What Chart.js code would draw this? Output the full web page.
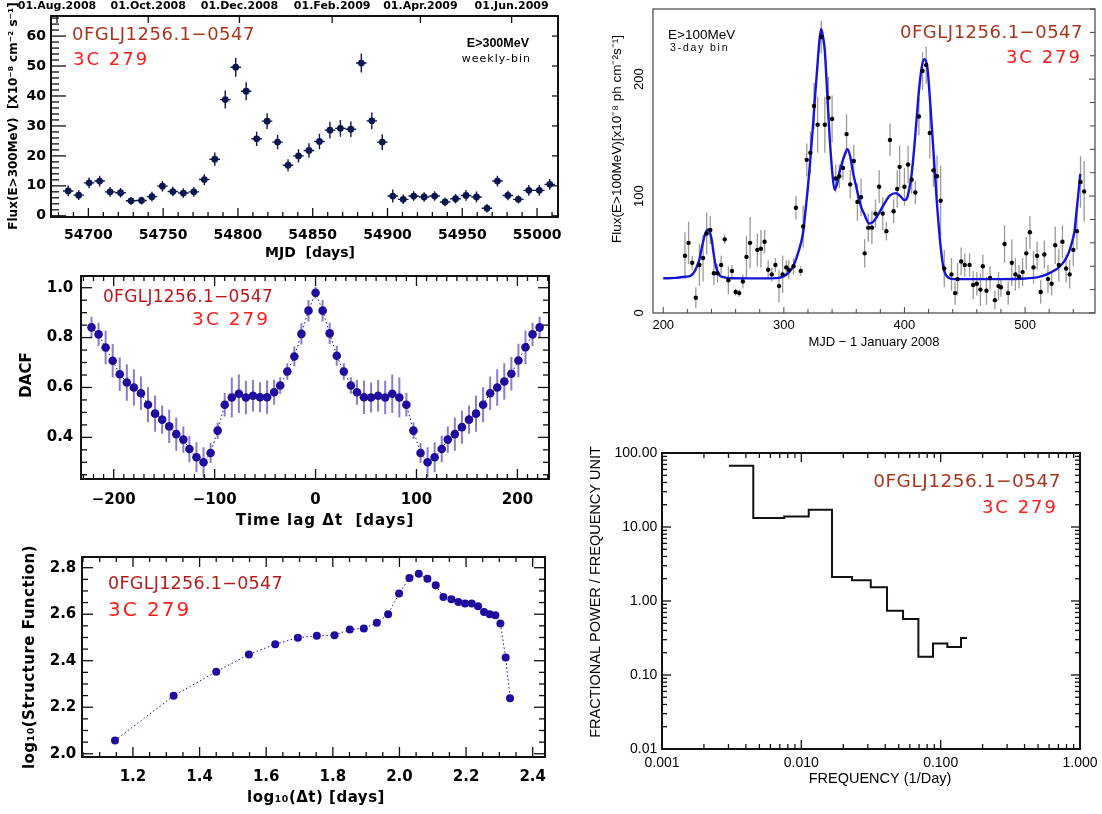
<!DOCTYPE html>
<html>
<head>
<meta charset="utf-8">
<title>3C 279 variability panels</title>
<script src="https://cdn.jsdelivr.net/npm/chart.js@4.4.1/dist/chart.umd.min.js"></script>
<style>
html, body { margin: 0; padding: 0; background: #fff; }
#wrap { position: relative; width: 1102px; height: 814px; overflow: hidden; background: #fff; }
#wrap canvas { position: absolute; left: 0; top: 0; }
</style>
</head>
<body>
<div id="wrap">
  <canvas id="lc" width="1102" height="814"></canvas>
  <canvas id="bin3" width="1102" height="814"></canvas>
  <canvas id="dacfChart" width="1102" height="814"></canvas>
  <canvas id="sfChart" width="1102" height="814"></canvas>
  <canvas id="psdChart" width="1102" height="814"></canvas>
</div>
<script>
// ---- weekly light curve E>300MeV ----
const lcMjd = [54686.5, 54693.5, 54700.5, 54707.5, 54714.5, 54721.5, 54728.5, 54735.5, 54742.5, 54749.5,
  54756.5, 54763.5, 54770.5, 54777.5, 54784.5, 54791.5, 54798.5, 54805.5, 54812.5, 54819.5,
  54826.5, 54833.5, 54840.5, 54847.5, 54854.5, 54861.5, 54868.5, 54875.5, 54882.5, 54889.5,
  54896.5, 54903.5, 54910.5, 54917.5, 54924.5, 54931.5, 54938.5, 54945.5, 54952.5, 54959.5,
  54966.5, 54973.5, 54980.5, 54987.5, 54994.5, 55001.5, 55008.5];
const lcFlux = [8.3, 6.9, 11.0, 11.6, 8.0, 7.7, 5.0, 5.1, 6.4, 9.9,
  8.1, 7.6, 8.0, 12.1, 18.9, 38.8, 49.6, 41.6, 25.7, 31.6,
  24.6, 16.9, 20.0, 21.8, 24.8, 28.6, 29.2, 28.9, 51.0, 31.7,
  24.6, 6.6, 5.5, 6.6, 6.3, 6.6, 4.6, 5.7, 6.8, 6.3,
  2.5, 11.6, 6.8, 5.5, 8.5, 8.5, 10.5];
const lcErr = [1.8, 1.6, 1.8, 1.8, 1.6, 1.6, 1.3, 1.3, 1.6, 1.8,
  1.6, 1.6, 1.6, 1.8, 2.2, 3.0, 3.2, 3.0, 2.4, 2.6,
  2.4, 2.0, 2.2, 2.4, 2.6, 2.8, 2.8, 2.6, 3.2, 2.8,
  2.6, 2.2, 1.6, 1.6, 1.6, 1.6, 1.4, 1.6, 1.8, 1.8,
  1.4, 1.8, 1.6, 1.4, 1.8, 1.8, 1.8];
const lcHalfBin = 3.5;
const dateTicks = [54679, 54740, 54801, 54863, 54922, 54983];
const dateLabels = ['01.Aug.2008', '01.Oct.2008', '01.Dec.2008', '01.Feb.2009', '01.Apr.2009', '01.Jun.2009'];

// ---- 3-day bin light curve E>100MeV ----
const binDay = [218, 221, 224, 227, 230, 233, 236, 239, 242, 245, 248, 251, 254, 257, 260, 263, 266, 269, 272,
  278, 281, 284, 287, 290, 293, 296, 299, 302,
  304, 308, 310, 314, 316,
  319, 322, 325, 328, 331, 334, 337, 340, 343, 346, 349, 352, 355, 358, 361, 364, 367, 370, 373, 376, 379, 382, 385, 388, 391, 394,
  396,
  400, 403, 406, 409, 412, 415, 418, 421, 424, 427, 430, 433,
  439, 442, 444, 447, 450, 454, 457, 460, 463, 465, 468, 471, 475, 478, 480, 483, 486, 489, 492, 495, 498, 501, 504, 507,
  510, 513, 516, 519, 522, 525, 528, 531, 534, 537, 540, 543, 546, 549];
const binFlux = [49, 60, 43, 13, 41, 47, 68, 71, 34, 34, 41, 63, 28, 36, 18, 17, 27, 48, 60,
  54, 55, 61, 37, 33, 41, 23, 33, 39,
  37, 40, 90, 36, 74,
  131, 137, 177, 161, 236, 161, 184, 166, 115, 117, 124, 153, 110, 130, 95, 99, 51, 73, 73, 85, 108, 85, 70, 148, 87, 106,
  125,
  108, 127, 114, 103, 168, 207, 212, 154, 122, 117, 96, 38,
  33, 17, 29, 44, 41, 41, 24, 25, 20, 40, 19, 30, 11, 23, 22, 59, 17, 43, 33, 31, 35, 51, 69, 39,
  49, 18, 50, 29, 25, 58, 41, 61, 38, 33, 54, 70, 112, 104];
const binErr = [20, 18, 6, 9, 18, 20, 18, 12, 10, 8, 8, 4, 12, 5, 3, 3, 6, 18, 22,
  14, 16, 10, 8, 6, 6, 14, 16, 6,
  8, 7, 10, 4, 18,
  14, 18, 20, 24, 14, 24, 18, 20, 12, 10, 10, 17, 12, 14, 16, 16, 12, 12, 14, 12, 14, 14, 8, 14, 10, 16,
  18,
  16, 16, 12, 10, 16, 16, 16, 22, 14, 18, 30, 16,
  14, 10, 14, 12, 10, 10, 12, 10, 14, 10, 12, 10, 8, 12, 8, 16, 10, 20, 14, 10, 12, 14, 14, 14,
  12, 10, 12, 12, 10, 16, 14, 14, 12, 12, 14, 16, 22, 26];
const fitDay = [200, 210, 218, 222, 225, 228, 230, 232, 234, 236, 237.5, 239, 240.3, 241.5, 243, 245, 247, 250, 255, 270,
  285, 296, 300, 304, 308, 312, 316, 318, 320, 322, 324, 326, 328, 329.5, 331, 332.5, 334, 336, 338, 340,
  342, 344, 346.5, 350, 352.7, 355, 357, 360, 362, 364, 366.5, 370.7, 374, 377, 382.5, 388, 393, 396.5, 400, 402,
  404, 406, 408, 410, 412, 414.3, 416.5, 419, 421.2, 424, 426.8, 429.5, 432.3, 435.6, 440.5, 460, 480, 500, 510, 518,
  524.6, 529, 533, 536, 538.5, 541, 542.5, 544, 545.8];
const fitFlux = [29.7, 30, 31, 31.5, 34, 40, 46, 56, 65, 70.5, 71.5, 68, 62, 53, 43, 35.5, 32, 30.6, 29.7, 29.6,
  29.6, 30, 31.5, 34.5, 40.5, 52, 69, 88, 108, 132, 158, 187, 214, 233, 243, 236, 224, 187, 150, 122,
  105.5, 110, 122, 134, 140, 134, 122, 108, 99, 91, 85, 76.5, 78, 82, 92, 100.5, 102.5, 100, 96.5, 98,
  106, 119, 140, 165, 190, 210, 217, 210, 182, 139, 96, 62, 39, 31, 29, 29, 29, 29.5, 30.5, 33,
  36.5, 40, 45, 51, 59, 70, 85, 100, 119];

// ---- DACF ----
const lags = [-222, -215, -208, -201, -194, -187, -180, -173, -166, -159, -152, -145, -138, -131, -125, -118,
  -111, -104, -97, -90, -83, -76, -69, -62, -55, -48, -41, -35, -28, -21, -14, -7, 0,
  7, 14, 21, 28, 35, 41, 48, 55, 62, 69, 76, 83, 90, 97, 104, 111,
  118, 125, 131, 138, 145, 152, 159, 166, 173, 180, 187, 194, 201, 208, 215, 222];
const dacf = [0.841, 0.813, 0.76, 0.707, 0.653, 0.62, 0.6, 0.577, 0.531, 0.495, 0.471, 0.444, 0.413, 0.391, 0.353, 0.32,
  0.30, 0.337, 0.427, 0.531, 0.56, 0.575, 0.56, 0.567, 0.561, 0.561, 0.581, 0.608, 0.664, 0.724, 0.815, 0.908, 0.98,
  0.908, 0.817, 0.727, 0.664, 0.608, 0.581, 0.561, 0.56, 0.567, 0.56, 0.575, 0.56, 0.531, 0.427, 0.337, 0.30,
  0.32, 0.353, 0.391, 0.413, 0.441, 0.471, 0.495, 0.531, 0.577, 0.6, 0.624, 0.655, 0.708, 0.761, 0.813, 0.841];
const dacfErr = [0.043, 0.047, 0.067, 0.067, 0.067, 0.073, 0.073, 0.067, 0.07, 0.073, 0.057, 0.067, 0.067, 0.053, 0.053, 0.06,
  0.06, 0.04, 0.033, 0.047, 0.08, 0.077, 0.067, 0.063, 0.06, 0.067, 0.05, 0.033, 0.033, 0.04, 0.043, 0.043, 0.023,
  0.043, 0.043, 0.04, 0.033, 0.033, 0.05, 0.067, 0.06, 0.063, 0.067, 0.077, 0.08, 0.047, 0.033, 0.04, 0.06,
  0.06, 0.053, 0.053, 0.067, 0.067, 0.057, 0.073, 0.07, 0.067, 0.073, 0.073, 0.067, 0.067, 0.067, 0.047, 0.043];

// ---- structure function ----
const sfLogDt = [1.146, 1.322, 1.450, 1.548, 1.627, 1.695, 1.752, 1.805, 1.851, 1.893, 1.932, 1.966, 1.999, 2.030, 2.058,
  2.084, 2.109, 2.132, 2.156, 2.177, 2.197, 2.217, 2.236, 2.254, 2.271, 2.288, 2.303, 2.319, 2.332];
const sfLog = [2.057, 2.249, 2.353, 2.427, 2.471, 2.499, 2.507, 2.51, 2.534, 2.539, 2.563, 2.6, 2.689, 2.756, 2.774,
  2.753, 2.724, 2.674, 2.664, 2.653, 2.646, 2.646, 2.634, 2.61, 2.6, 2.596, 2.56, 2.414, 2.239];

// ---- power spectrum (bin edges + power per bin) ----
const psdEdges = [0.00302, 0.00452, 0.00753, 0.0113, 0.0166, 0.0231, 0.0315, 0.0412, 0.0537, 0.0692, 0.0881, 0.1117, 0.140, 0.1545];
const psdPower = [67.3, 13.2, 13.9, 17.1, 2.11, 1.9, 1.53, 0.74, 0.571, 0.177, 0.267, 0.239, 0.316];

// ------------------------------------------------------------------
const W = 1102, H = 814;
const DJ = "'DejaVu Sans', sans-serif";
const LS = "'Liberation Sans', Arial, sans-serif";
const SRC_DARK = '#a8361e';
const SRC_RED = '#ff1a1a';

function span(a, b, step) {
    const out = [];
    const n = Math.round((b - a) / step);
    for (let i = 0; i <= n; i++) out.push(+(a + i * step).toFixed(6));
    return out;
}

function logTicks(lo, hi) {
    const out = [];
    for (let e = lo; e < hi; e++) {
        for (let m = 1; m < 10; m++) out.push(+(m * Math.pow(10, e)).toPrecision(6));
    }
    out.push(Math.pow(10, hi));
    return out;
}

function pts(xs, ys) {
    return xs.map((x, i) => ({ x: x, y: ys[i] }));
}

// vertical error bars as broken line segments
function errY(xs, ys, es) {
    const out = [];
    xs.forEach((x, i) => {
        out.push({ x: x, y: ys[i] - es[i] }, { x: x, y: ys[i] + es[i] }, { x: x, y: null });
    });
    return out;
}

// horizontal bin-width bars
function errX(xs, ys, half) {
    const out = [];
    xs.forEach((x, i) => {
        out.push({ x: x - half, y: ys[i] }, { x: x + half, y: ys[i] }, { x: x, y: null });
    });
    return out;
}

function isMajor(v, t) {
    if (t.log) {
        const l = Math.log10(v);
        return Math.abs(l - Math.round(l)) < 1e-6;
    }
    if (!t.major) return false;
    const r = v / t.major;
    return Math.abs(r - Math.round(r)) < 1e-6;
}

function drawText(ctx, t) {
    ctx.save();
    ctx.font = t.font;
    ctx.fillStyle = t.color || '#000';
    ctx.textAlign = t.align || 'center';
    ctx.textBaseline = 'middle';
    ctx.letterSpacing = (t.ls || 0) + 'px';
    ctx.translate(t.x, t.y);
    if (t.rot) ctx.rotate(-Math.PI / 2);
    ctx.fillText(t.s, 0, 0);
    ctx.restore();
}

// frame, inner tick marks and annotation text
function decor(spec) {
    return {
        id: 'decor',
        afterDraw(chart) {
            const ctx = chart.ctx, a = chart.chartArea;
            ctx.save();
            ctx.strokeStyle = spec.tickColor || '#111';
            ctx.lineWidth = spec.tickWidth || 1.3;
            (spec.ticks || []).forEach(t => {
                const sc = chart.scales[t.scale];
                t.values.forEach(v => {
                    const p = sc.getPixelForValue(v);
                    const horiz = t.side === 'bottom' || t.side === 'top';
                    if (horiz && (p < a.left - 0.5 || p > a.right + 0.5)) return;
                    if (!horiz && (p < a.top - 0.5 || p > a.bottom + 0.5)) return;
                    const len = isMajor(v, t) ? t.long : t.short;
                    ctx.beginPath();
                    if (t.side === 'bottom') { ctx.moveTo(p, a.bottom); ctx.lineTo(p, a.bottom - len); }
                    if (t.side === 'top') { ctx.moveTo(p, a.top); ctx.lineTo(p, a.top + len); }
                    if (t.side === 'left') { ctx.moveTo(a.left, p); ctx.lineTo(a.left + len, p); }
                    if (t.side === 'right') { ctx.moveTo(a.right, p); ctx.lineTo(a.right - len, p); }
                    ctx.stroke();
                });
            });
            ctx.lineWidth = spec.frameWidth || 2;
            ctx.strokeStyle = spec.frameColor || '#111';
            ctx.strokeRect(a.left, a.top, a.right - a.left, a.bottom - a.top);
            ctx.restore();
            if (spec.rotYLabels) {
                const r = spec.rotYLabels;
                r.values.forEach(v => {
                    drawText(ctx, { s: String(v), x: r.x, y: chart.scales.y.getPixelForValue(v), font: r.font, rot: true });
                });
            }
            (spec.texts || []).forEach(t => drawText(ctx, t));
        }
    };
}

// scale whose box is fixed to `size` px (labels are clipped to that box)
function axis(pos, size, min, max, labels, fmt, font, pad, extra) {
    return Object.assign({
        type: 'linear',
        position: pos,
        min: min,
        max: max,
        grid: { display: false, drawTicks: false },
        border: { display: false },
        ticks: {
            display: labels.length > 0,
            autoSkip: false,
            maxRotation: 0,
            minRotation: 0,
            padding: pad,
            color: '#000',
            font: font,
            callback: fmt
        },
        afterBuildTicks: s => { if (labels.length) s.ticks = labels.map(v => ({ value: v })); },
        afterFit: s => {
            if (s.isHorizontal()) s.height = size; else s.width = size;
            s.paddingLeft = s.paddingRight = s.paddingTop = s.paddingBottom = 0;
        }
    }, extra || {});
}

// box = plot area [left, top, right, bottom]; left/bottom (and optional top) scales fill the margins
function makeChart(id, box, hasTop, datasets, scales, spec) {
    return new Chart(document.getElementById(id), {
        type: 'scatter',
        data: { datasets: datasets },
        options: {
            responsive: false,
            animation: false,
            devicePixelRatio: 1,
            events: [],
            layout: { padding: { left: 0, top: hasTop ? 0 : box[1], right: W - box[2], bottom: 0 } },
            plugins: { legend: { display: false }, tooltip: { enabled: false } },
            scales: scales
        },
        plugins: [decor(spec)]
    });
}

const asInt = v => String(v);
const withMinus = v => (v < 0 ? '\u2212' + (-v) : String(v));
const oneDec = v => v.toFixed(1);

// ---------------- panel 1: weekly light curve ----------------
const navy = '#0b1650';
const b1 = [51, 16, 558, 217];
makeChart('lc', b1, true, [
    { data: pts(lcMjd, lcFlux), pointRadius: 3.4, pointBackgroundColor: navy, pointBorderColor: navy, pointBorderWidth: 0 },
    { data: errY(lcMjd, lcFlux, lcErr), showLine: true, pointRadius: 0, borderColor: navy, borderWidth: 1.4 },
    { data: errX(lcMjd, lcFlux, lcHalfBin), showLine: true, pointRadius: 0, borderColor: navy, borderWidth: 1.4 }
], {
    x: axis('bottom', H - b1[3], 54675, 55014, span(54700, 55000, 50), asInt, { family: DJ, size: 14, weight: 'bold' }, 9.6),
    x2: axis('top', b1[1], 54675, 55014, dateTicks, (v, i) => dateLabels[i], { family: DJ, size: 11, weight: 'bold' }, 3.4),
    y: axis('left', b1[0], -0.4, 66.7, span(0, 60, 10), asInt, { family: DJ, size: 14, weight: 'bold' }, 5)
}, {
    frameWidth: 2,
    ticks: [
        { scale: 'x', side: 'bottom', values: span(54680, 55010, 10), major: 50, long: 9, short: 5 },
        { scale: 'x2', side: 'top', values: dateTicks, long: 7, short: 7 },
        { scale: 'y', side: 'left', values: span(0, 66, 2), major: 10, long: 15, short: 8 },
        { scale: 'y', side: 'right', values: span(0, 60, 10), long: 6, short: 6 }
    ],
    texts: [
        { s: 'MJD  [days]', x: 310, y: 253, font: 'bold 14px ' + DJ },
        { s: 'Flux(E>300MeV)  [X10\u207B\u2078 cm\u207B\u00B2 s\u207B\u00B9]', x: 14, y: 116, font: 'bold 12px ' + DJ, rot: true },
        { s: '0FGLJ1256.1\u22120547', x: 72, y: 35, font: '18px ' + DJ, color: SRC_DARK, align: 'left', ls: 0.5 },
        { s: '3C 279', x: 73, y: 60, font: '18px ' + DJ, color: SRC_RED, align: 'left', ls: 2 },
        { s: 'E>300MeV', x: 529, y: 44, font: 'bold 12.5px ' + LS, align: 'right' },
        { s: 'weekly-bin', x: 531, y: 59, font: '11px ' + DJ, align: 'right', ls: 1 }
    ]
});

// ---------------- panel 2: 3-day bins with fit ----------------
const b2 = [653, 9, 1095, 313];
makeChart('bin3', b2, false, [
    { data: pts(binDay, binFlux), pointRadius: 2.2, pointBackgroundColor: '#000', pointBorderColor: '#000', pointBorderWidth: 0 },
    { data: pts(fitDay, fitFlux), showLine: true, pointRadius: 0, borderColor: '#1414dc', borderWidth: 2.4, cubicInterpolationMode: 'monotone' },
    { data: errY(binDay, binFlux, binErr), showLine: true, pointRadius: 0, borderColor: '#9a9a9a', borderWidth: 1.3 }
], {
    x: axis('bottom', H - b2[3], 191.5, 558, [200, 300, 400, 500], asInt, { family: LS, size: 13 }, 4.2),
    y: axis('left', b2[0], 0, 260, [0, 100, 200], asInt, { family: LS, size: 13 }, 4, { ticks: { display: false } })
}, {
    frameWidth: 1.2,
    frameColor: '#444',
    tickColor: '#444',
    tickWidth: 1,
    ticks: [
        { scale: 'x', side: 'bottom', values: span(200, 540, 20), major: 100, long: 6, short: 4 },
        { scale: 'y', side: 'right', values: span(0, 260, 20), major: 100, long: 6, short: 5 }
    ],
    rotYLabels: { values: [0, 100, 200], x: 639.5, font: '13px ' + LS },
    texts: [
        { s: 'E>100MeV', x: 668, y: 35, font: '13.5px ' + LS, align: 'left' },
        { s: '3-day bin', x: 670, y: 48, font: '10.5px ' + LS, align: 'left', ls: 1.8 },
        { s: '0FGLJ1256.1\u22120547', x: 1083, y: 33, font: '18px ' + DJ, color: SRC_DARK, align: 'right', ls: 0.5 },
        { s: '3C 279', x: 1082, y: 58, font: '18px ' + DJ, color: SRC_RED, align: 'right', ls: 2 },
        { s: 'Flux(E>100MeV)[x10\u207B\u2078 ph cm\u207B\u00B2s\u207B\u00B9]', x: 617, y: 139, font: '13.5px ' + LS, rot: true },
        { s: 'MJD \u2212 1 January 2008', x: 874, y: 342, font: '13px ' + LS }
    ]
});

// ---------------- panel 3: DACF ----------------
const indigo = '#1e0c9e';
const b3 = [81, 276, 549, 479];
makeChart('dacfChart', b3, false, [
    { data: pts(lags, dacf), showLine: true, pointRadius: 4.3, pointBackgroundColor: indigo, pointBorderColor: indigo,
      pointBorderWidth: 0, borderColor: indigo, borderWidth: 1, borderDash: [1.5, 2.5] },
    { data: errY(lags, dacf, dacfErr), showLine: true, pointRadius: 0, borderColor: '#8a7dcc', borderWidth: 2 }
], {
    x: axis('bottom', H - b3[3], -232.4, 231.3, [-200, -100, 0, 100, 200], withMinus, { family: DJ, size: 15, weight: 'bold' }, 11.7),
    y: axis('left', b3[0], 0.233, 1.047, [0.4, 0.6, 0.8, 1.0], oneDec, { family: DJ, size: 15, weight: 'bold' }, 7.7)
}, {
    frameWidth: 2,
    ticks: [
        { scale: 'x', side: 'bottom', values: span(-230, 230, 10), major: 100, long: 10, short: 5 },
        { scale: 'x', side: 'top', values: span(-230, 230, 10), major: 100, long: 10, short: 5 },
        { scale: 'y', side: 'left', values: span(0.25, 1.0, 0.05), major: 0.2, long: 11, short: 6 },
        { scale: 'y', side: 'right', values: span(0.25, 1.0, 0.05), major: 0.2, long: 11, short: 6 }
    ],
    texts: [
        { s: 'DACF', x: 27, y: 375, font: 'bold 15px ' + DJ, rot: true },
        { s: 'Time lag \u0394t  [days]', x: 325, y: 521, font: 'bold 15px ' + DJ, ls: 1 },
        { s: '0FGLJ1256.1\u22120547', x: 103, y: 298, font: '17px ' + DJ, color: '#c0141c', align: 'left', ls: 0.3 },
        { s: '3C 279', x: 270, y: 320, font: '18.5px ' + DJ, color: SRC_RED, align: 'right', ls: 2 }
    ]
});

// ---------------- panel 4: structure function ----------------
const b4 = [82, 557, 545, 757];
makeChart('sfChart', b4, false, [
    { data: pts(sfLogDt, sfLog), showLine: true, pointRadius: 4, pointBackgroundColor: indigo, pointBorderColor: indigo,
      pointBorderWidth: 0, borderColor: indigo, borderWidth: 1, borderDash: [1.5, 2.5] }
], {
    x: axis('bottom', H - b4[3], 1.047, 2.437, [1.2, 1.4, 1.6, 1.8, 2.0, 2.2, 2.4], oneDec, { family: DJ, size: 15, weight: 'bold' }, 11),
    y: axis('left', b4[0], 1.986, 2.846, [2.0, 2.2, 2.4, 2.6, 2.8], oneDec, { family: DJ, size: 15, weight: 'bold' }, 5.7)
}, {
    frameWidth: 2,
    ticks: [
        { scale: 'x', side: 'bottom', values: span(1.05, 2.4, 0.05), major: 0.2, long: 10, short: 5 },
        { scale: 'x', side: 'top', values: span(1.05, 2.4, 0.05), major: 0.2, long: 10, short: 5 },
        { scale: 'y', side: 'left', values: span(2.0, 2.8, 0.05), major: 0.2, long: 11, short: 6 },
        { scale: 'y', side: 'right', values: span(2.0, 2.8, 0.05), major: 0.2, long: 11, short: 6 }
    ],
    texts: [
        { s: 'log\u2081\u2080(Structure Function)', x: 30, y: 657, font: 'bold 15px ' + DJ, rot: true, ls: 0.5 },
        { s: 'log\u2081\u2080(\u0394t) [days]', x: 316, y: 798, font: 'bold 15px ' + DJ, ls: 0.5 },
        { s: '0FGLJ1256.1\u22120547', x: 108, y: 584, font: '17.5px ' + DJ, color: '#b81a1a', align: 'left', ls: 0.3 },
        { s: '3C 279', x: 108, y: 611, font: '20px ' + DJ, color: SRC_RED, align: 'left', ls: 2 }
    ]
});

// ---------------- panel 5: power spectrum ----------------
const b5 = [662, 453, 1080, 749];
const psdPts = psdEdges.map((f, i) => ({ x: f, y: psdPower[Math.min(i, psdPower.length - 1)] }));
makeChart('psdChart', b5, false, [
    { data: psdPts, showLine: true, stepped: 'before', pointRadius: 0, borderColor: '#111', borderWidth: 2 }
], {
    x: axis('bottom', H - b5[3], 0.001, 1, [0.001, 0.01, 0.1, 1], v => v.toFixed(3), { family: LS, size: 14 }, 5.6, { type: 'logarithmic' }),
    y: axis('left', b5[0], 0.01, 100, [0.01, 0.1, 1, 10, 100], v => v.toFixed(2), { family: LS, size: 14 }, 4.7, { type: 'logarithmic' })
}, {
    frameWidth: 2,
    ticks: [
        { scale: 'x', side: 'bottom', values: logTicks(-3, 0), log: true, long: 9, short: 5 },
        { scale: 'x', side: 'top', values: logTicks(-3, 0), log: true, long: 9, short: 5 },
        { scale: 'y', side: 'left', values: logTicks(-2, 2), log: true, long: 9, short: 5 },
        { scale: 'y', side: 'right', values: logTicks(-2, 2), log: true, long: 9, short: 5 }
    ],
    texts: [
        { s: 'FRACTIONAL POWER / FREQUENCY UNIT', x: 596, y: 592, font: '14.5px ' + LS, rot: true },
        { s: 'FREQUENCY (1/Day)', x: 880, y: 779, font: '14.5px ' + LS },
        { s: '0FGLJ1256.1\u22120547', x: 1061, y: 482, font: '18.5px ' + DJ, color: SRC_DARK, align: 'right', ls: 0.5 },
        { s: '3C 279', x: 1058, y: 508, font: '18px ' + DJ, color: SRC_RED, align: 'right', ls: 2 }
    ]
});
</script>
</body>
</html>
